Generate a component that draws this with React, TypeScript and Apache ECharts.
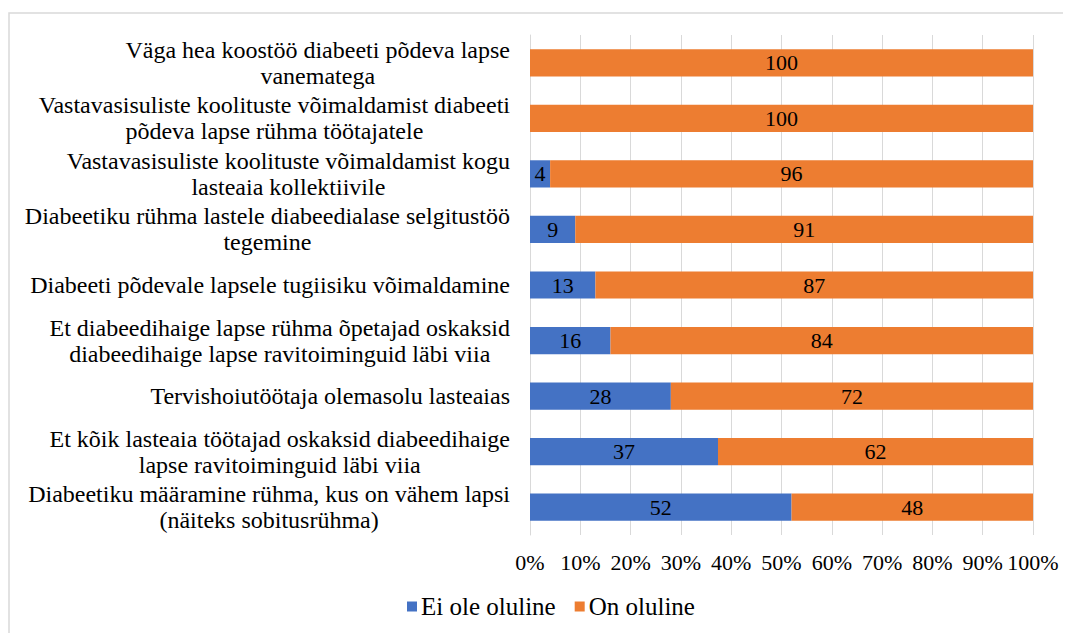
import React, { useEffect, useRef } from "react";
import * as echarts from "echarts";

const categories = [
  "Väga hea koostöö diabeeti põdeva lapse\nvanematega",
  "Vastavasisuliste koolituste võimaldamist diabeeti\npõdeva lapse rühma töötajatele",
  "Vastavasisuliste koolituste võimaldamist kogu\nlasteaia kollektiivile",
  "Diabeetiku rühma lastele diabeedialase selgitustöö\ntegemine",
  "Diabeeti põdevale lapsele tugiisiku võimaldamine",
  "Et diabeedihaige lapse rühma õpetajad oskaksid\ndiabeedihaige lapse ravitoiminguid läbi viia",
  "Tervishoiutöötaja olemasolu lasteaias",
  "Et kõik lasteaia töötajad oskaksid diabeedihaige\nlapse ravitoiminguid läbi viia",
  "Diabeetiku määramine rühma, kus on vähem lapsi\n(näiteks sobitusrühma)",
];
const eiOleOluline = [0, 0, 4, 9, 13, 16, 28, 37, 52];
const onOluline = [100, 100, 96, 91, 87, 84, 72, 62, 48];
const seriesNames = ["Ei ole oluline", "On oluline"];
const tickValues = [0, 10, 20, 30, 40, 50, 60, 70, 80, 90, 100];

const FONT = "'Liberation Serif', 'Times New Roman', serif";

export default function App() {
  const ref = useRef<HTMLDivElement>(null);
  useEffect(() => {
    if (!ref.current) return;
    const chart = echarts.init(ref.current, undefined, { renderer: "svg" });
    const totals = eiOleOluline.map((v, i) => v + onOluline[i]);
    const mk = (arr: number[]) =>
      arr.map((v, i) => ({ value: (v / totals[i]) * 100, raw: v, label: { show: v > 0 } }));
    const labelCfg = {
      show: true,
      position: "inside",
      color: "#000",
      fontFamily: FONT,
      fontSize: 22,
      formatter: (p: any) => String(p.data.raw),
    };
    chart.setOption({
      animation: false,
      textStyle: { fontFamily: FONT },
      graphic: [
        {
          type: "rect",
          shape: { x: 1, y: 5, width: 1200, height: 800 },
          style: { fill: "none", stroke: "#d9d9d9", lineWidth: 1.5 },
          silent: true,
        },
      ],
      grid: { left: 522, top: 27, width: 503, height: 500, outerBoundsMode: "none", containLabel: false },
      xAxis: {
        type: "value",
        min: 0,
        max: 100,
        interval: 10,
        axisLine: { show: false },
        axisTick: { show: false },
        splitLine: { show: true, lineStyle: { color: "#d9d9d9", width: 1 } },
        axisLabel: {
          margin: 16,
          color: "#000",
          fontFamily: FONT,
          fontSize: 22,
          formatter: (v: number) => (tickValues.includes(v) ? v + "%" : ""),
        },
      },
      yAxis: {
        type: "category",
        inverse: true,
        data: categories,
        axisLine: { show: true, lineStyle: { color: "#d9d9d9", width: 1 } },
        axisTick: { show: false },
        axisLabel: {
          margin: 20,
          color: "#000",
          fontFamily: FONT,
          fontSize: 24,
          lineHeight: 26,
          formatter: (v: string) => v.split("\n").map((l) => "{c|" + l + "}").join("\n"),
          rich: {
            c: { align: "center", fontFamily: FONT, fontSize: 24, lineHeight: 26, color: "#000" },
          },
        },
      },
      legend: {
        top: 581,
        left: 394,
        itemWidth: 10,
        itemHeight: 10,
        itemGap: 19,
        icon: "rect",
        textStyle: { fontFamily: FONT, fontSize: 25, color: "#000", padding: [0, 0, 0, -1] },
        data: seriesNames,
      },
      series: [
        {
          name: seriesNames[0],
          type: "bar",
          stack: "total",
          barCategoryGap: "51%",
          itemStyle: { color: "#4472C4" },
          label: labelCfg,
          data: mk(eiOleOluline),
        },
        {
          name: seriesNames[1],
          type: "bar",
          stack: "total",
          barCategoryGap: "51%",
          itemStyle: { color: "#ED7D31" },
          label: labelCfg,
          data: mk(onOluline),
        },
      ],
    });
    return () => chart.dispose();
  }, []);
  return <div ref={ref} style={{ width: 1063, height: 625 }} />;
}
